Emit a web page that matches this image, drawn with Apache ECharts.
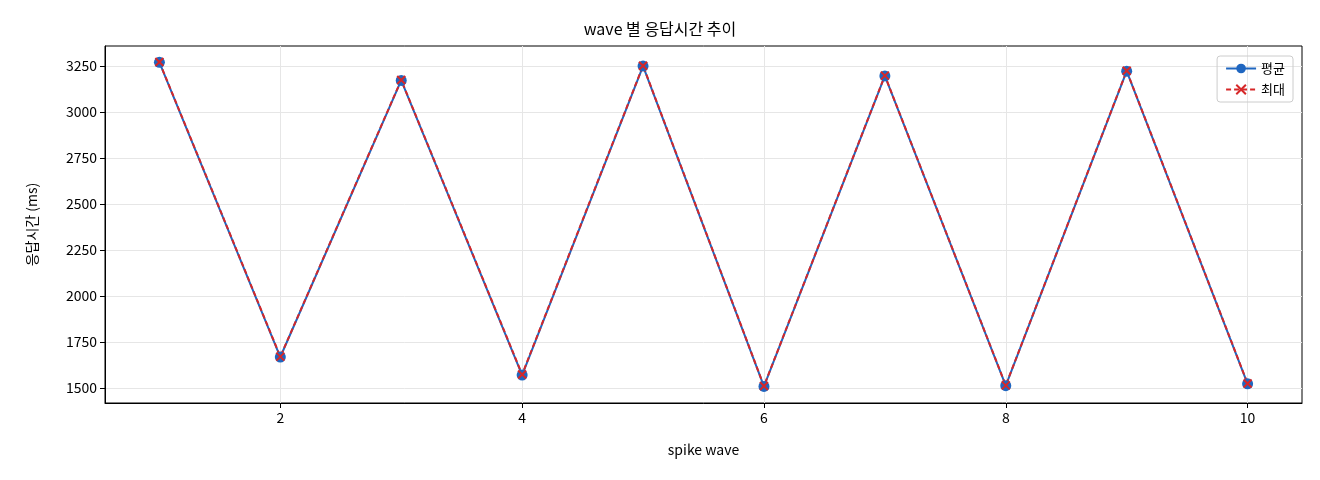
<!DOCTYPE html><html><head><meta charset="utf-8"><script src="https://cdn.jsdelivr.net/npm/echarts@6/dist/echarts.min.js"></script></head><body style="margin:0"><div id="c" style="width:1320px;height:480px"></div><script>
const waves=[1,2,3,4,5,6,7,8,9,10];
const avg=[3270,1668,3172,1570,3250,1508,3196,1512,3222,1522];
const mx=[3272,1670,3174,1573,3252,1510,3198,1514,3224,1524];
const xTicks=[2,4,6,8,10];
const yTicks=[1500,1750,2000,2250,2500,2750,3000,3250];
const F='Noto Sans CJK KR';
const c=echarts.init(document.getElementById('c'));
c.setOption({animation:false,textStyle:{fontFamily:F},
title:{text:'wave 별 응답시간 추이',left:'center',top:16,textStyle:{fontSize:16,fontWeight:'normal',color:'#000',fontFamily:F}},
grid:{left:105,right:18,top:46,bottom:77,show:true,borderColor:'#000',borderWidth:1},
legend:{right:27,top:56,orient:'vertical',itemWidth:30,itemHeight:12,itemGap:8,padding:[6,8],borderColor:'#ccc',borderWidth:1,borderRadius:3,textStyle:{fontSize:13,color:'#000'},data:['평균','최대']},
xAxis:{type:'value',min:0.55,max:10.45,name:'spike wave',nameLocation:'middle',nameGap:40,nameTextStyle:{fontSize:14,color:'#000'},
axisLine:{onZero:false,lineStyle:{color:'#000'}},axisTick:{customValues:xTicks,lineStyle:{color:'#000'}},axisLabel:{customValues:xTicks,fontSize:14,color:'#000',formatter:v=>String(v)},
splitLine:{show:true,lineStyle:{color:'#e6e6e6'}}},
yAxis:{type:'value',min:1418,max:3359,name:'응답시간 (ms)',nameLocation:'middle',nameGap:66,nameTextStyle:{fontSize:14,color:'#000'},
axisLine:{show:true,lineStyle:{color:'#000'}},axisTick:{show:true,customValues:yTicks,lineStyle:{color:'#000'}},axisLabel:{customValues:yTicks,fontSize:14,color:'#000',formatter:v=>String(v)},
splitLine:{show:true,lineStyle:{color:'#e6e6e6'}}},
series:[
{name:'평균',type:'line',data:waves.map((w,i)=>[w,avg[i]]),symbol:'circle',symbolSize:11,color:'#1f66c0',lineStyle:{width:2}},
{name:'최대',type:'line',data:waves.map((w,i)=>[w,mx[i]]),symbol:'path://M-1,-1L1,1M1,-1L-1,1',symbolSize:8,itemStyle:{color:'#d62728',borderColor:'#d62728',borderWidth:2},color:'#d62728',lineStyle:{width:2,type:[5,3]}}
]});
</script></body></html>
